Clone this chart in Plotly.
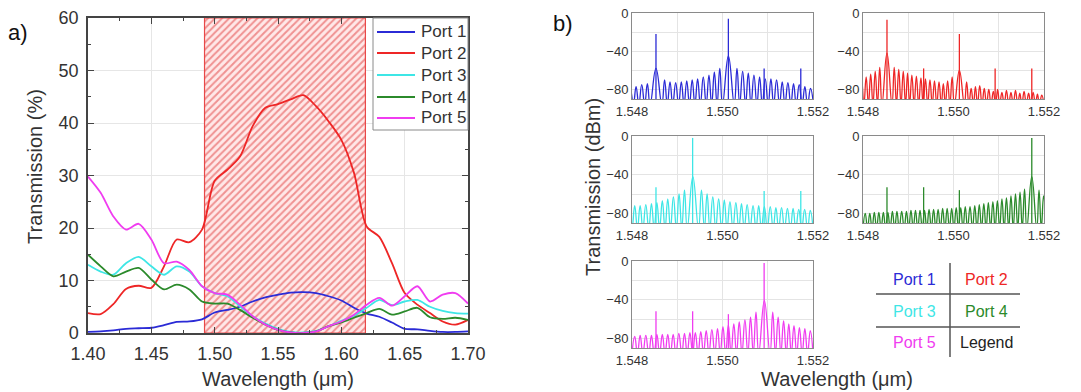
import plotly.graph_objects as go

W, H = 1081, 392

# ---------------- Panel a) data ----------------
wavelength_a = [1.40, 1.41, 1.42, 1.43, 1.44, 1.45, 1.46, 1.47, 1.48, 1.49, 1.50,
                1.51, 1.52, 1.53, 1.54, 1.55, 1.56, 1.57, 1.58, 1.59, 1.60,
                1.61, 1.62, 1.63, 1.64, 1.65, 1.66, 1.67, 1.68, 1.69, 1.70]
port1_pct = [0.2, 0.3, 0.5, 0.8, 0.9, 1.0, 1.5, 2.1, 2.2, 2.6, 3.9,
             4.4, 5.0, 6.0, 6.8, 7.3, 7.7, 7.8, 7.6, 7.0, 6.2,
             4.8, 3.7, 3.1, 2.0, 0.8, 0.7, 0.4, 0.2, 0.2, 0.3]
port2_pct = [3.8, 3.6, 5.5, 8.4, 9.0, 8.6, 12.7, 17.8, 17.3, 19.7, 29.0,
             31.1, 33.6, 39.4, 42.9, 43.6, 44.5, 45.3, 43.2, 40.3, 36.8,
             30.5, 20.3, 18.3, 13.3, 7.6, 5.4, 3.8, 2.2, 1.6, 2.5]
port3_pct = [13.0, 11.7, 11.1, 13.3, 14.5, 12.7, 11.1, 12.7, 11.7, 8.9, 7.6,
             7.0, 5.1, 3.2, 1.8, 0.8, 0.2, 0.1, 0.4, 1.3, 2.3,
             3.3, 4.8, 6.3, 5.3, 6.0, 6.3, 5.0, 4.2, 3.8, 3.7]
port4_pct = [14.9, 12.7, 10.8, 11.7, 12.4, 10.2, 8.3, 9.2, 8.3, 6.0, 5.6,
             5.6, 4.4, 2.9, 1.6, 0.6, 0.1, 0.0, 0.3, 1.3, 2.0,
             2.9, 3.8, 4.6, 3.5, 4.1, 4.8, 3.0, 2.7, 2.9, 2.5]
port5_pct = [29.8, 26.7, 22.2, 19.7, 20.8, 17.8, 13.3, 13.6, 12.0, 8.9, 7.6,
             7.3, 5.4, 3.2, 1.6, 0.6, 0.1, 0.0, 0.3, 1.3, 2.2,
             3.5, 5.4, 6.7, 5.2, 7.0, 8.9, 6.0, 7.3, 7.6, 5.6]
band_lo, band_hi = 1.492, 1.619
port_names = ["Port 1", "Port 2", "Port 3", "Port 4", "Port 5"]

# ---------------- Panel b) data ----------------
p1_nulls = [1.54790, 1.54803, 1.54815, 1.54828, 1.54840, 1.54866, 1.54878, 1.54890,
            1.54903, 1.54915, 1.54927, 1.54939, 1.54951, 1.54964, 1.54976, 1.54988,
            1.55000, 1.55026, 1.55038, 1.55051, 1.55063, 1.55076, 1.55088, 1.55101,
            1.55113, 1.55126, 1.55138, 1.55151, 1.55163, 1.55176, 1.55188, 1.55201]
p1_peaks = [-80, -77, -75, -74, -58, -70, -72, -73, -72, -71, -70, -69, -67, -65, -62, -58,
            -45, -58, -61, -63, -65, -67, -69, -69, -70, -72, -73, -74, -75, -77, -79]
p1_spike_wl = [1.54853, 1.55013, 1.55092, 1.55173]
p1_spike_db = [-22, -6, -58, -58]

p2_nulls = [1.54792, 1.54802, 1.54812, 1.54822, 1.54832, 1.54842, 1.54864, 1.54874,
            1.54884, 1.54894, 1.54903, 1.54913, 1.54923, 1.54933, 1.54943, 1.54953,
            1.54963, 1.54973, 1.54982, 1.54992, 1.55002, 1.55024, 1.55034, 1.55044,
            1.55053, 1.55063, 1.55073, 1.55083, 1.55093, 1.55102, 1.55112, 1.55122,
            1.55132, 1.55142, 1.55151, 1.55161, 1.55171, 1.55181, 1.55190, 1.55200]
p2_peaks = [-70, -67, -64, -61, -57, -42, -57, -59, -61, -63, -65, -66, -68, -69, -70, -71,
            -72, -74, -71, -67, -60, -72, -79, -77, -76, -79, -80, -82, -80, -83, -81, -83,
            -81, -84, -82, -84, -83, -85, -86]
p2_spike_wl = [1.54853, 1.54934, 1.55013, 1.55092, 1.55173]
p2_spike_db = [-7, -58, -22, -58, -58]

p3_nulls = [1.54788, 1.54800, 1.54812, 1.54824, 1.54837, 1.54849, 1.54861, 1.54873,
            1.54885, 1.54898, 1.54910, 1.54922, 1.54947, 1.54960, 1.54972, 1.54985,
            1.54998, 1.55010, 1.55023, 1.55036, 1.55048, 1.55061, 1.55074, 1.55086,
            1.55099, 1.55112, 1.55124, 1.55137, 1.55150, 1.55162, 1.55175, 1.55188, 1.55200]
p3_peaks = [-74, -72, -72, -71, -70, -69, -67, -65, -63, -60, -56, -42,
            -56, -60, -63, -65, -66, -68, -69, -70, -71, -72, -72, -73, -73, -74, -74, -75,
            -75, -76, -76, -77]
p3_spike_wl = [1.54853, 1.54934, 1.55092, 1.55173]
p3_spike_db = [-53, -2, -57, -57]

p4_nulls = [1.54800, 1.54810, 1.54820, 1.54830, 1.54840, 1.54850, 1.54860, 1.54870,
            1.54880, 1.54891, 1.54901, 1.54911, 1.54921, 1.54931, 1.54941, 1.54951,
            1.54961, 1.54971, 1.54981, 1.54991, 1.55001, 1.55011, 1.55021, 1.55031,
            1.55042, 1.55052, 1.55062, 1.55072, 1.55082, 1.55092, 1.55102, 1.55112,
            1.55122, 1.55132, 1.55142, 1.55152, 1.55162, 1.55184, 1.55194, 1.55204]
p4_peaks = [-80, -80, -79, -79, -79, -79, -78, -78, -78, -78, -77, -77, -77, -77, -76, -76,
            -76, -75, -75, -75, -74, -74, -73, -73, -72, -71, -70, -69, -68, -67, -65, -64,
            -62, -60, -58, -55, -42, -56, -62]
p4_spike_wl = [1.54853, 1.54934, 1.55013, 1.55173]
p4_spike_db = [-53, -53, -56, -2]

p5_nulls = [1.54800, 1.54812, 1.54824, 1.54837, 1.54849, 1.54861, 1.54873, 1.54885,
            1.54897, 1.54910, 1.54922, 1.54934, 1.54946, 1.54958, 1.54970, 1.54983,
            1.54995, 1.55007, 1.55019, 1.55031, 1.55043, 1.55056, 1.55068, 1.55080,
            1.55105, 1.55117, 1.55129, 1.55141, 1.55152, 1.55164, 1.55176, 1.55188, 1.55200]
p5_peaks = [-78, -77, -77, -77, -76, -76, -76, -76, -75, -75, -74, -74, -73, -72, -71, -70,
            -68, -66, -65, -63, -61, -58, -53, -41,
            -53, -58, -62, -65, -67, -69, -70, -72]
p5_spike_wl = [1.54853, 1.54934, 1.55013, 1.55092]
p5_spike_db = [-52, -52, -55, -2]

b_xticks = [1.548, 1.550, 1.552]
b_yticks = [0, -40, -80]

# ---------------- styling ----------------
colors = ["#2b2bd6", "#ee2626", "#3ee6e6", "#2b8a2b", "#f03cf0"]
FONT = "Liberation Sans, Arial, sans-serif"
TXT = "#333333"


def px(x):
    return x / W


def py(y):
    return 1 - y / H


fig = go.Figure()

# hatched band
fig.add_trace(go.Bar(
    x=[(band_lo + band_hi) / 2], y=[60], width=[band_hi - band_lo], base=0,
    marker=dict(color="rgba(255,232,232,1)",
                line=dict(color="#e84848", width=1.2),
                pattern=dict(shape="/", fgcolor="#e03a3a", size=5, solidity=0.4,
                             fillmode="overlay")),
    showlegend=False, hoverinfo="skip", xaxis="x", yaxis="y"))

for name, vals, c in zip(port_names, [port1_pct, port2_pct, port3_pct, port4_pct, port5_pct], colors):
    fig.add_trace(go.Scatter(x=wavelength_a, y=vals, mode="lines", name=name, showlegend=False,
                             line=dict(color=c, width=1.8, shape="spline", smoothing=0.8),
                             xaxis="x", yaxis="y"))


def lobe_xy(nulls, peaks, floor=-96):
    xs, ys = [], []
    for i, p in enumerate(peaks):
        xs += [nulls[i], (nulls[i] + nulls[i + 1]) / 2]
        ys += [floor, p]
    xs.append(nulls[-1])
    ys.append(floor)
    return xs, ys


def spike_xy(wls, tops, base=-95):
    xs, ys = [], []
    for w, t in zip(wls, tops):
        xs += [w, w, None]
        ys += [base, t, None]
    return xs, ys


panels = [
    (p1_nulls, p1_peaks, p1_spike_wl, p1_spike_db),
    (p2_nulls, p2_peaks, p2_spike_wl, p2_spike_db),
    (p3_nulls, p3_peaks, p3_spike_wl, p3_spike_db),
    (p4_nulls, p4_peaks, p4_spike_wl, p4_spike_db),
    (p5_nulls, p5_peaks, p5_spike_wl, p5_spike_db),
]
for k, (nl, pk, sw, sd) in enumerate(panels):
    ax = str(k + 2)
    lx, ly = lobe_xy(nl, pk)
    fig.add_trace(go.Scatter(x=lx, y=ly, mode="lines", showlegend=False,
                             line=dict(color=colors[k], width=1.3, shape="spline", smoothing=1.3),
                             xaxis="x" + ax, yaxis="y" + ax, hoverinfo="skip"))
    sx, sy = spike_xy(sw, sd)
    fig.add_trace(go.Scatter(x=sx, y=sy, mode="lines", showlegend=False,
                             line=dict(color=colors[k], width=1.3),
                             xaxis="x" + ax, yaxis="y" + ax, hoverinfo="skip"))

layout = dict(
    template="none",
    width=W, height=H, margin=dict(l=0, r=0, t=0, b=0, autoexpand=False),
    paper_bgcolor="white", plot_bgcolor="white",
    font=dict(family=FONT, color=TXT),
    showlegend=False,
    xaxis=dict(domain=[px(88), px(468)], range=[1.40, 1.70], dtick=0.05, tick0=1.40,
               tickformat=".2f", ticks="inside", ticklen=6, tickcolor="#444", tickwidth=1,
               showline=True, linecolor="#444", linewidth=1.5, mirror="allticks",
               showgrid=True, gridcolor="#e6e6e6", gridwidth=1, zeroline=False, automargin=False,
               ticklabelstandoff=4,
               minor=dict(ticks="inside", ticklen=3, dtick=0.025, tickcolor="#444", showgrid=False),
               tickfont=dict(size=18, color=TXT), anchor="y"),
    yaxis=dict(domain=[py(333), py(18)], range=[0, 60], dtick=10,
               ticks="inside", ticklen=6, tickcolor="#444", tickwidth=1,
               showline=True, linecolor="#444", linewidth=1.5, mirror="allticks",
               showgrid=True, gridcolor="#e6e6e6", gridwidth=1, zeroline=False, automargin=False,
               ticklabelstandoff=4,
               minor=dict(ticks="inside", ticklen=3, dtick=5, tickcolor="#444", showgrid=False),
               tickfont=dict(size=18, color=TXT), anchor="x"),
)

boxes = [
    (632, 813, 13, 99),
    (863, 1044, 13, 99),
    (632, 813, 136, 223),
    (863, 1044, 136, 223),
    (632, 813, 261, 348),
]
for k, (x0, x1, y0, y1) in enumerate(boxes):
    ax = str(k + 2)
    layout["xaxis" + ax] = dict(
        domain=[px(x0), px(x1)], range=[1.548, 1.552], anchor="y" + ax,
        tickvals=b_xticks, tickformat=".3f", ticks="", automargin=False,
        showline=True, linecolor="#8a8a8a", linewidth=1, mirror=True,
        showgrid=False, zeroline=False,
        minor=dict(dtick=0.001, tick0=1.548, showgrid=True, gridcolor="#e4e4e4", ticks=""),
        tickfont=dict(size=13, color=TXT))
    layout["yaxis" + ax] = dict(
        domain=[py(y1), py(y0)], range=[-90, 0], anchor="x" + ax,
        tickvals=b_yticks, ticks="", automargin=False,
        showline=True, linecolor="#8a8a8a", linewidth=1, mirror=True,
        showgrid=False, zeroline=False,
        minor=dict(dtick=20, tick0=0, showgrid=True, gridcolor="#e4e4e4", ticks=""),
        tickfont=dict(size=13, color=TXT))

fig.update_layout(**layout)

ann = []


def add_text(x, y, text, size, color=TXT, angle=0, anchor="center"):
    ann.append(dict(x=px(x), y=py(y), xref="paper", yref="paper", text=text,
                    showarrow=False, xanchor=anchor, yanchor="middle",
                    textangle=angle, font=dict(size=size, color=color, family=FONT)))


add_text(18, 33, "a)", 22, "#111")
add_text(563, 24, "b)", 22, "#111")
add_text(35, 167, "Transmission (%)", 20, angle=-90)
add_text(278, 379, "Wavelength (\u03bcm)", 20)
add_text(593, 187, "Transmission (dBm)", 20, angle=-90)
add_text(837, 379, "Wavelength (\u03bcm)", 20)

shapes = []

# legend of panel a) drawn inside the plot
shapes.append(dict(type="rect", xref="paper", yref="paper", x0=px(373), x1=px(468),
                   y0=py(130), y1=py(18), line=dict(color="#8a8a8a", width=1),
                   fillcolor="white", layer="above"))
leg_rows = [32, 53, 75, 97, 118]
for yy, name, c in zip(leg_rows, port_names, colors):
    shapes.append(dict(type="line", xref="paper", yref="paper", x0=px(377), x1=px(415),
                       y0=py(yy), y1=py(yy), line=dict(color=c, width=1.8)))
    add_text(419, yy, name, 17, TXT, anchor="left")

# table legend for panel b)
table_cells = [(914, 279), (986, 279), (914, 311), (986, 311), (914, 342)]
for (tx, tyy), name, c in zip(table_cells, port_names, colors):
    add_text(tx, tyy, name, 16, c)
add_text(986, 342, "Legend", 16, "#222")

shapes += [
    dict(type="line", xref="paper", yref="paper", x0=px(950), x1=px(950), y0=py(263), y1=py(357),
         line=dict(color="#555", width=1.5)),
    dict(type="line", xref="paper", yref="paper", x0=px(876), x1=px(1020), y0=py(294), y1=py(294),
         line=dict(color="#555", width=1.5)),
    dict(type="line", xref="paper", yref="paper", x0=px(876), x1=px(1020), y0=py(327), y1=py(327),
         line=dict(color="#555", width=1.5)),
]
fig.update_layout(annotations=ann, shapes=shapes)

fig.write_html("out.html", config={"displayModeBar": False},
               post_script="document.body.style.margin='0px';document.body.style.overflow='hidden';")
